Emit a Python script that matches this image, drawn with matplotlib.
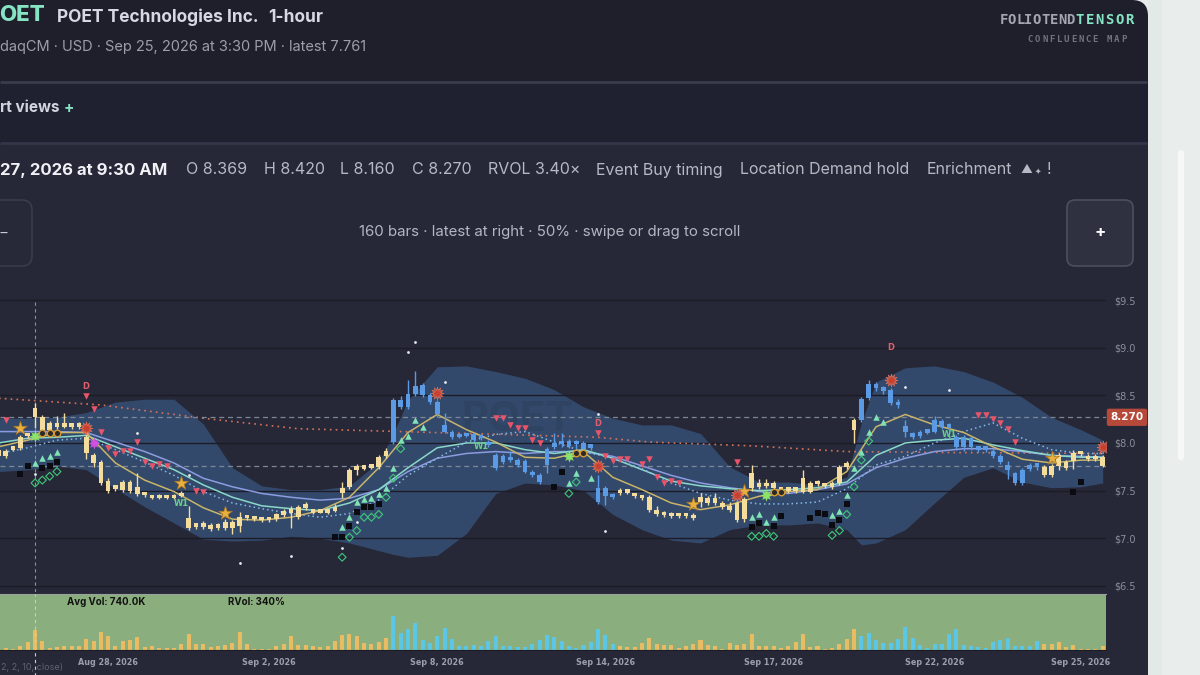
import numpy as np
import matplotlib.pyplot as plt
import matplotlib.transforms as mtransforms
from matplotlib.patches import FancyBboxPatch, Rectangle

# ---- candle data (hourly bars) ----
opens = [
    7.86, 7.92, 7.93, 7.95, 8.07, 8.369, 8.27, 8.14, 8.18, 8.17,
    8.19, 8.17, 8.06, 7.87, 7.80, 7.60, 7.52, 7.51, 7.59, 7.54,
    7.46, 7.43, 7.42, 7.43, 7.42, 7.44, 7.21, 7.12, 7.13, 7.10,
    7.14, 7.11, 7.17, 7.13, 7.21, 7.22, 7.20, 7.19, 7.20, 7.24,
    7.28, 7.22, 7.33, 7.30, 7.27, 7.29, 7.29, 7.48, 7.54, 7.72,
    7.73, 7.74, 7.75, 7.86, 8.01, 8.45, 8.38, 8.51, 8.61, 8.50,
    8.43, 8.19, 8.12, 8.06, 8.07, 8.09, 8.05, 8.01, 7.87, 7.80,
    7.83, 7.82, 7.81, 7.70, 7.66, 7.77, 7.96, 7.99, 8.02, 7.99,
    8.00, 7.95, 7.53, 7.44, 7.46, 7.47, 7.50, 7.46, 7.43, 7.43,
    7.30, 7.25, 7.24, 7.23, 7.24, 7.23, 7.38, 7.42, 7.37, 7.37,
    7.33, 7.37, 7.20, 7.53, 7.58, 7.55, 7.58, 7.51, 7.50, 7.51,
    7.49, 7.58, 7.57, 7.56, 7.54, 7.58, 7.75, 8.14, 8.24, 8.47,
    8.62, 8.56, 8.56, 8.41, 8.18, 8.10, 8.07, 8.11, 8.12, 8.23,
    8.17, 8.06, 7.96, 8.05, 7.94, 7.93, 7.92, 7.86, 7.77, 7.68,
    7.58, 7.73, 7.76, 7.75, 7.66, 7.76, 7.80, 7.81, 7.88, 7.86,
    7.83, 7.85]
closes = [
    7.93, 7.86, 7.95, 8.06, 8.09, 8.27, 8.14, 8.21, 8.17, 8.19,
    8.17, 8.18, 7.90, 7.79, 7.58, 7.50, 7.54, 7.59, 7.50, 7.46,
    7.45, 7.42, 7.43, 7.42, 7.44, 7.46, 7.11, 7.13, 7.12, 7.14,
    7.11, 7.17, 7.11, 7.22, 7.22, 7.20, 7.19, 7.20, 7.25, 7.29,
    7.27, 7.33, 7.32, 7.27, 7.29, 7.27, 7.32, 7.53, 7.72, 7.73,
    7.74, 7.76, 7.85, 7.92, 8.45, 8.38, 8.51, 8.60, 8.50, 8.43,
    8.30, 8.12, 8.06, 8.07, 8.08, 8.03, 8.06, 7.98, 7.74, 7.86,
    7.82, 7.77, 7.70, 7.66, 7.59, 7.94, 7.99, 8.00, 7.97, 8.00,
    7.94, 7.96, 7.38, 7.53, 7.43, 7.51, 7.48, 7.44, 7.42, 7.30,
    7.25, 7.24, 7.23, 7.24, 7.23, 7.21, 7.43, 7.37, 7.42, 7.33,
    7.30, 7.19, 7.41, 7.68, 7.54, 7.58, 7.53, 7.50, 7.51, 7.50,
    7.63, 7.49, 7.58, 7.55, 7.58, 7.75, 7.79, 8.24, 8.46, 8.62,
    8.58, 8.55, 8.42, 8.40, 8.12, 8.06, 8.12, 8.12, 8.24, 8.17,
    8.16, 7.96, 8.06, 7.96, 7.93, 7.94, 7.86, 7.80, 7.72, 7.58,
    7.72, 7.77, 7.75, 7.66, 7.76, 7.87, 7.74, 7.90, 7.89, 7.83,
    7.86, 7.761]
highs = [
    7.95, 7.94, 7.97, 8.08, 8.11, 8.42, 8.29, 8.23, 8.28, 8.31,
    8.20, 8.22, 8.10, 7.90, 7.82, 7.63, 7.56, 7.61, 7.61, 7.68,
    7.48, 7.44, 7.46, 7.44, 7.46, 7.50, 7.34, 7.16, 7.18, 7.16,
    7.16, 7.20, 7.19, 7.28, 7.24, 7.23, 7.21, 7.22, 7.27, 7.31,
    7.34, 7.35, 7.38, 7.31, 7.30, 7.31, 7.36, 7.59, 7.74, 7.78,
    7.76, 7.78, 7.87, 7.95, 8.47, 8.49, 8.66, 8.76, 8.63, 8.52,
    8.45, 8.31, 8.14, 8.10, 8.10, 8.11, 8.09, 8.03, 7.90, 7.88,
    7.92, 7.84, 7.83, 7.72, 7.68, 7.96, 8.10, 8.10, 8.04, 8.03,
    8.02, 7.98, 7.66, 7.55, 7.48, 7.53, 7.52, 7.47, 7.45, 7.45,
    7.34, 7.29, 7.28, 7.25, 7.25, 7.27, 7.47, 7.44, 7.47, 7.39,
    7.38, 7.39, 7.43, 7.77, 7.62, 7.62, 7.60, 7.53, 7.53, 7.52,
    7.72, 7.60, 7.61, 7.58, 7.60, 7.77, 7.81, 8.26, 8.48, 8.66,
    8.64, 8.60, 8.58, 8.46, 8.24, 8.12, 8.14, 8.15, 8.28, 8.25,
    8.21, 8.08, 8.08, 8.07, 7.96, 7.96, 7.94, 7.88, 7.81, 7.70,
    7.74, 7.79, 7.79, 7.77, 7.78, 7.89, 7.82, 7.93, 7.91, 7.88,
    7.88, 7.87]
lows = [
    7.84, 7.84, 7.92, 7.93, 8.05, 8.16, 8.12, 8.12, 8.15, 8.16,
    8.15, 8.15, 7.83, 7.75, 7.56, 7.48, 7.50, 7.49, 7.48, 7.44,
    7.43, 7.41, 7.41, 7.41, 7.41, 7.43, 7.09, 7.10, 7.10, 7.08,
    7.09, 7.09, 7.04, 7.06, 7.19, 7.18, 7.17, 7.17, 7.18, 7.22,
    7.11, 7.20, 7.30, 7.25, 7.26, 7.25, 7.28, 7.42, 7.52, 7.66,
    7.72, 7.73, 7.73, 7.84, 7.99, 8.36, 8.36, 8.49, 8.48, 8.41,
    8.27, 8.10, 8.04, 8.05, 8.06, 8.01, 8.03, 7.96, 7.72, 7.78,
    7.80, 7.75, 7.68, 7.64, 7.57, 7.68, 7.94, 7.96, 7.95, 7.95,
    7.92, 7.93, 7.36, 7.35, 7.41, 7.45, 7.46, 7.42, 7.40, 7.28,
    7.23, 7.22, 7.21, 7.21, 7.21, 7.19, 7.33, 7.35, 7.35, 7.31,
    7.28, 7.17, 7.17, 7.50, 7.52, 7.53, 7.51, 7.48, 7.48, 7.48,
    7.47, 7.47, 7.55, 7.53, 7.52, 7.56, 7.73, 8.00, 8.22, 8.45,
    8.55, 8.51, 8.40, 8.37, 8.06, 8.04, 8.05, 8.09, 8.10, 8.15,
    8.14, 7.93, 7.92, 7.93, 7.91, 7.91, 7.84, 7.78, 7.62, 7.56,
    7.56, 7.71, 7.72, 7.64, 7.64, 7.72, 7.72, 7.73, 7.86, 7.81,
    7.81, 7.75]
volumes_k = [
    380, 390, 280, 550, 1060, 2520, 1180, 390, 470, 550,
    550, 630, 1460, 1140, 2210, 1810, 630, 1140, 1260, 1650,
    470, 630, 390, 350, 390, 790, 2050, 870, 870, 470,
    630, 670, 950, 2210, 790, 280, 240, 280, 630, 790,
    1730, 670, 710, 590, 470, 590, 1180, 1930, 2010, 1730,
    910, 830, 1020, 1580, 4140, 2130, 2560, 3310, 1260, 990,
    1770, 2720, 1460, 550, 630, 670, 550, 1140, 1770, 630,
    630, 470, 470, 790, 1260, 1890, 1650, 1180, 630, 350,
    710, 1060, 2600, 1850, 870, 550, 470, 470, 950, 1540,
    870, 670, 710, 390, 630, 790, 1260, 670, 550, 280,
    950, 750, 790, 2050, 550, 550, 630, 390, 630, 1060,
    2010, 470, 630, 240, 390, 790, 1420, 2640, 1770, 2170,
    1340, 950, 950, 1420, 2800, 1580, 670, 390, 870, 870,
    1970, 2600, 710, 550, 430, 390, 1100, 1260, 1540, 630,
    630, 630, 1220, 790, 790, 1020, 470, 750, 280, 280,
    200, 630]
blue_spans = [(54, 84), (118, 142)]

# envelope band
band_idx = [0, 4, 8, 12, 16, 20, 24, 28, 32, 36, 40, 44, 48, 52, 54, 56, 60, 64, 68, 72,
            76, 80, 84, 88, 92, 96, 100, 104, 108, 112, 116, 118, 120, 124, 128, 132, 136,
            140, 144, 148, 151]
band_up = [8.26, 8.26, 8.27, 8.32, 8.43, 8.46, 8.46, 8.20, 7.74, 7.55, 7.51, 7.51, 7.55,
           7.80, 8.10, 8.45, 8.80, 8.81, 8.75, 8.68, 8.56, 8.38, 8.26, 8.19, 8.19, 8.10,
           7.75, 7.59, 7.59, 7.56, 7.64, 8.21, 8.64, 8.79, 8.81, 8.75, 8.64, 8.48, 8.27,
           8.14, 8.03]
band_lo = [7.70, 7.72, 7.76, 7.72, 7.52, 7.33, 7.16, 6.99, 6.97, 6.98, 7.02, 7.00, 6.95,
           6.87, 6.83, 6.80, 6.82, 7.05, 7.47, 7.58, 7.56, 7.50, 7.25, 7.09, 6.98, 6.95,
           7.09, 7.14, 7.14, 7.16, 7.09, 6.93, 6.95, 7.09, 7.37, 7.64, 7.74, 7.59, 7.53,
           7.54, 7.58]

# moving averages
ma_idx = [0, 4, 8, 12, 16, 20, 24, 28, 32, 36, 40, 44, 48, 52, 56, 60, 64, 68, 72, 76,
          80, 84, 88, 92, 96, 100, 104, 108, 112, 116, 120, 124, 128, 132, 136, 140, 144,
          148, 151]
ma_gold = [7.96, 8.03, 8.11, 8.11, 7.79, 7.61, 7.49, 7.32, 7.20, 7.19, 7.22, 7.29, 7.43,
           7.74, 8.11, 8.30, 8.14, 8.01, 7.85, 7.84, 7.91, 7.64, 7.51, 7.37, 7.30, 7.35,
           7.44, 7.49, 7.51, 7.70, 8.17, 8.30, 8.19, 8.11, 7.96, 7.83, 7.79, 7.82, 7.82]
ma_teal = [8.00, 8.05, 8.06, 8.08, 7.96, 7.84, 7.72, 7.56, 7.43, 7.34, 7.31, 7.29, 7.37,
           7.51, 7.74, 7.95, 8.00, 8.00, 7.93, 7.89, 7.93, 7.84, 7.72, 7.60, 7.55, 7.52,
           7.50, 7.51, 7.53, 7.59, 7.87, 8.00, 8.03, 8.05, 7.98, 7.92, 7.87, 7.85, 7.85]
ma_lav = [8.12, 8.12, 8.12, 8.11, 8.01, 7.91, 7.79, 7.63, 7.54, 7.47, 7.43, 7.40, 7.42,
          7.51, 7.70, 7.84, 7.89, 7.91, 7.89, 7.91, 7.91, 7.86, 7.76, 7.66, 7.58, 7.53,
          7.49, 7.47, 7.51, 7.57, 7.74, 7.84, 7.91, 7.94, 7.94, 7.91, 7.87, 7.86, 7.85]
ma_dot = [7.89, 7.95, 8.03, 8.05, 7.93, 7.80, 7.66, 7.49, 7.37, 7.31, 7.26, 7.22, 7.26,
          7.40, 7.66, 7.84, 8.01, 8.09, 8.12, 8.01, 7.91, 7.84, 7.73, 7.58, 7.47, 7.40,
          7.36, 7.36, 7.38, 7.52, 7.77, 7.86, 8.00, 8.12, 8.21, 8.05, 7.93, 7.89, 7.89]
long_idx = [0, 14, 28, 41, 55, 69, 82, 89, 103, 116, 130, 151]
long_ma = [8.47, 8.40, 8.26, 8.15, 8.12, 8.09, 8.06, 8.01, 7.97, 7.91, 7.90, 7.89]

# signal markers (bar index, price)
buy_i = [5, 6, 7, 8, 47, 48, 49, 50, 51, 52, 53, 54, 55, 56, 57, 58, 78, 79, 81,
         103, 104, 105, 106, 114, 115, 116, 117, 118, 119, 120, 121]
buy_p = [7.79, 7.84, 7.86, 7.91, 7.12, 7.22, 7.38, 7.41, 7.42, 7.46, 7.53, 7.74, 8.03,
         8.07, 8.24, 8.17, 7.58, 7.69, 7.63, 7.22, 7.25, 7.17, 7.22, 7.24, 7.29, 7.45,
         7.74, 7.91, 8.12, 8.27, 8.22]
sell_i = [1, 12, 13, 14, 15, 16, 17, 18, 19, 20, 21, 22, 23, 27, 28,
          68, 69, 70, 71, 72, 73, 74, 82, 83, 84, 85, 86, 88, 89, 90, 91, 92, 93, 101,
          134, 135, 136, 137, 138, 139]
sell_p = [8.24, 8.49, 8.36, 8.12, 7.95, 7.88, 7.92, 7.92, 8.01, 7.80, 7.76, 7.78, 7.76,
          7.50, 7.49, 8.26, 8.26, 8.19, 8.16, 8.16, 8.03, 8.00, 8.10, 7.86, 7.81, 7.83,
          7.83, 7.78, 7.83, 7.64, 7.58, 7.60, 7.58, 7.80, 8.29, 8.29, 8.25, 8.21, 8.15, 8.01]
sq_i = [3, 4, 6, 7, 8, 46, 47, 48, 49, 50, 51, 52, 76, 77,
        103, 104, 106, 107, 111, 112, 113, 114, 115, 116, 147, 148]
sq_p = [7.67, 7.76, 7.74, 7.76, 7.80, 7.01, 7.01, 7.13, 7.28, 7.33, 7.33, 7.36, 7.54,
        7.70, 7.12, 7.16, 7.13, 7.23, 7.21, 7.27, 7.25, 7.14, 7.19, 7.36, 7.49, 7.59]
dia_i = [5, 6, 7, 8, 47, 48, 49, 50, 51, 52, 53, 54, 55, 78, 79,
         103, 104, 105, 106, 114, 115, 116, 117, 118, 119]
dia_p = [7.58, 7.61, 7.65, 7.70, 6.80, 7.01, 7.08, 7.22, 7.22, 7.25, 7.43, 7.63, 7.94,
         7.47, 7.59, 7.02, 7.02, 7.05, 7.02, 7.03, 7.08, 7.25, 7.54, 7.82, 8.02]
pt_i = [5, 19, 26, 33, 40, 47, 49, 56, 57, 61, 82, 83, 124, 130]
pt_p = [7.67, 8.10, 7.66, 6.74, 6.81, 6.90, 7.17, 8.96, 9.06, 8.64, 8.30, 7.08, 8.59, 8.56]
star_i = [3, 25, 31, 95, 102, 144]
star_p = [8.16, 7.58, 7.26, 7.36, 7.50, 7.84]
burst_i = [12, 60, 82, 101, 122, 151]
burst_p = [8.16, 8.53, 7.76, 7.45, 8.66, 7.96]
gburst_i = [5, 78, 105]
gburst_p = [8.07, 7.86, 7.45]
mburst_i = [13]
mburst_p = [8.00]
ring_i = [6, 7, 8, 79, 80, 106, 107]
ring_p = [8.11, 8.11, 8.11, 7.89, 7.89, 7.49, 7.49]
d_i = [12, 82, 122]
d_p = [8.59, 8.21, 9.00]
w_i = [25, 66, 130]
w_p = [7.36, 7.96, 8.09]

date_idx = [15, 37, 60, 83, 106, 128, 148]
date_lbl = ['Aug 28, 2026', 'Sep 2, 2026', 'Sep 8, 2026', 'Sep 14, 2026',
            'Sep 17, 2026', 'Sep 22, 2026', 'Sep 25, 2026']
price_ticks = [6.5, 7.0, 7.5, 8.0, 8.5, 9.0, 9.5]
cross_bar = 5
cross_price = 8.270
latest = 7.761

info_items = [(186, 'O 8.369'), (264, 'H 8.420'), (340, 'L 8.160'), (412, 'C 8.270'),
              (488, 'RVOL 3.40×'), (596, 'Event Buy timing'), (740, 'Location Demand hold'),
              (927, 'Enrichment')]

W, H = 1200, 675
UI = ['Inter', 'DejaVu Sans']
fig = plt.figure(figsize=(12, 6.75), dpi=100, facecolor='#e6ecea')


def px_axes(x, y, w, h):
    return fig.add_axes([x / W, 1 - (y + h) / H, w / W, h / H])


bg = px_axes(0, 0, W, H)
bg.set_xlim(0, W)
bg.set_ylim(H, 0)
bg.axis('off')

# page panels
bg.add_patch(Rectangle((1148, 0), 52, 675, fc='#e9eeed', ec='none'))
bg.add_patch(Rectangle((1148, 0), 14, 675, fc='#e2e9e7', ec='none'))
bg.add_patch(FancyBboxPatch((-30, 0), 1178, 720, boxstyle='round,pad=0,rounding_size=16',
                            fc='#1e1f2b', ec='none'))
bg.add_patch(Rectangle((0, 82), 1148, 60, fc='#1f2130', ec='none'))
bg.add_patch(Rectangle((0, 143), 1148, 532, fc='#262837', ec='none'))
bg.plot([0, 1147], [81.5, 81.5], color='#393c4b', lw=2, solid_capstyle='butt')
bg.plot([0, 1147], [142.5, 142.5], color='#34374a', lw=2, solid_capstyle='butt')
bg.add_patch(FancyBboxPatch((1178, 150), 6, 310, boxstyle='round,pad=0,rounding_size=3',
                            fc='#f6f8f8', ec='none'))

# header text
bg.text(-1, 15, 'OET', ha='left', va='center', fontsize=16, fontweight='heavy',
        color='#86e3c3', family=UI)
bg.text(57, 17, 'POET Technologies Inc.', ha='left', va='center', fontsize=12.5,
        fontweight='bold', color='#d6d8e2', family=UI)
bg.text(268, 17, '1-hour', ha='left', va='center', fontsize=12.5, fontweight='bold',
        color='#d6d8e2', family=UI)
bg.text(0, 47, 'daqCM · USD · Sep 25, 2026 at 3:30 PM · latest 7.761', ha='left',
        va='center', fontsize=10.5, color='#9c9ea9', family=UI)


def spaced(x, y, s, step, **kw):
    for k, ch in enumerate(s):
        bg.text(x + k * step, y, ch, ha='center', va='center', **kw)


spaced(1003.5, 20, 'FOLIOTEND', 8.35, fontsize=10, fontweight='bold',
       color='#a3a6b0', family='DejaVu Sans Mono')
spaced(1080, 20, 'TENSOR', 9.9, fontsize=10, fontweight='bold',
       color='#86e3c3', family='DejaVu Sans Mono')
spaced(1030.5, 40, 'CONFLUENCE MAP', 7.2, fontsize=6.5, fontweight='bold',
       color='#6f7380', family='DejaVu Sans Mono')

bg.text(0, 108, 'rt views', ha='left', va='center', fontsize=11, fontweight='bold',
        color='#d2d4de', family=UI)
bg.text(64, 108, '+', ha='left', va='center', fontsize=11, fontweight='bold',
        color='#86e3c3', family=UI)

bg.text(0, 170, '27, 2026 at 9:30 AM', ha='left', va='center', fontsize=12,
        fontweight='bold', color='#f0f1f5', family=UI)
for x, s in info_items:
    bg.text(x, 170, s, ha='left', va='center', fontsize=11.5, color='#b6b8c4', family=UI)
bg.text(1020, 170, '▲', ha='left', va='center', fontsize=8.5, color='#b6b8c4', family=UI)
bg.text(1035, 171, '✦', ha='left', va='center', fontsize=5.5, color='#b6b8c4', family=UI)
bg.text(1047, 170, '!', ha='left', va='center', fontsize=11.5, color='#b6b8c4', family=UI)

# scroll row
bg.add_patch(FancyBboxPatch((-40, 200), 72, 66, boxstyle='round,pad=0,rounding_size=10',
                            fc='#272938', ec='#393c4b', lw=1.2))
bg.text(-2, 232, '−', ha='left', va='center', fontsize=11, color='#c8cad4', family=UI)
bg.add_patch(FancyBboxPatch((1067, 200), 66, 66, boxstyle='round,pad=0,rounding_size=8',
                            fc='#2f3141', ec='#4b4e5e', lw=1.2))
bg.text(1100, 233, '+', ha='center', va='center', fontsize=12, fontweight='bold',
        color='#ffffff', family=UI)
bg.text(550, 232, '160 bars · latest at right · 50% · swipe or drag to scroll',
        ha='center', va='center', fontsize=10.8, color='#b4b6c2', family=UI)
bg.text(1, 668, '2, 2, 10, close)', ha='left', va='center', fontsize=6.5,
        color='#5f6270', family=UI)

# ---- price panel ----
n = len(closes)
idx = np.arange(n)
is_blue = np.zeros(n, dtype=bool)
for a, b in blue_spans:
    is_blue[a:b + 1] = True
candle_col = np.where(is_blue, '#5b9be6', '#f4dd9c')
vol_col = np.where(is_blue, '#5cc6e6', '#e9bb62')

ax = px_axes(0, 290, 1106, 302)
ax.set_facecolor('none')
ax.set_xlim(0.21, 151.45)
ax.set_ylim(6.435, 9.607)
for sp in ax.spines.values():
    sp.set_visible(False)
ax.set_xticks([])
ax.yaxis.tick_right()
ax.set_yticks(price_ticks)
ax.set_yticklabels([f'${t:.1f}' for t in price_ticks])
ax.tick_params(axis='y', length=0, pad=6, labelsize=7, labelcolor='#8b8e9a')

ax.fill_between(band_idx, band_lo, band_up, color='#33496b', lw=0, zorder=1)
ax.hlines(price_ticks, 0.21, 151.45, color='#1b1c27', lw=1, zorder=1.5)
ax.text(71, 8.24, 'POET', fontsize=30, fontweight='bold', color='#2a3a55', alpha=0.4,
        ha='center', va='center', family=UI, zorder=1.6)

ax.plot(long_idx, long_ma, color='#d8735a', lw=1.2, ls=(0, (1, 2.5)), zorder=2)
ax.axhline(cross_price, color='#7c8696', lw=0.9, ls=(0, (4, 3)), zorder=2)
ax.axhline(latest, color='#7c8696', lw=0.9, ls=(0, (4, 3)), zorder=2)
ax.axvline(cross_bar, ymax=0.967, color='#8c8f9c', lw=0.8, ls=(0, (3, 3)), zorder=2)

ax.plot(ma_idx, ma_lav, color='#8c9ce0', lw=1.1, zorder=3)
ax.plot(ma_idx, ma_teal, color='#8ad8c8', lw=1.1, zorder=3)
ax.plot(ma_idx, ma_dot, color='#86b8e6', lw=1.1, ls=(0, (1, 2)), zorder=3)
ax.plot(ma_idx, ma_gold, color='#c8b46a', lw=1.1, zorder=3)

o = np.array(opens)
c = np.array(closes)
body_lo = np.minimum(o, c)
body_h = np.maximum(np.abs(c - o), 0.035)
ax.vlines(idx, lows, highs, colors=candle_col, lw=1, zorder=4)
ax.bar(idx, body_h, bottom=body_lo, width=0.64, color=candle_col, lw=0, zorder=4)

ax.scatter(buy_i, buy_p, marker='^', s=22, color='#7fe3b5', lw=0, zorder=5)
ax.scatter(sell_i, sell_p, marker='v', s=22, color='#e8556a', lw=0, zorder=5)
ax.scatter(sq_i, sq_p, marker='s', s=18, color='#0b0c12', lw=0, zorder=5)
ax.scatter(dia_i, dia_p, marker='D', s=16, facecolor='none', edgecolor='#3fc87a',
           lw=0.8, zorder=5)
ax.scatter(pt_i, pt_p, marker='o', s=4, color='#e8e8f0', lw=0, zorder=5)
ax.scatter(star_i, star_p, marker='*', s=110, color='#e8b040', edgecolor='#a87420',
           lw=0.5, zorder=6)
ax.scatter(burst_i, burst_p, marker=(12, 1, 0), s=85, color='#c8402f',
           edgecolor='#e0705a', lw=0.5, zorder=6)
ax.scatter(gburst_i, gburst_p, marker=(8, 1, 0), s=80, color='#8ee26a', lw=0, zorder=6)
ax.scatter(mburst_i, mburst_p, marker=(8, 1, 0), s=80, color='#d050e0', lw=0, zorder=6)
ax.scatter(ring_i, ring_p, marker='o', s=22, facecolor='#2a2a2a', edgecolor='#d89a30',
           lw=1, zorder=6)
for i, p in zip(d_i, d_p):
    ax.text(i, p, 'D', fontsize=6, fontweight='bold', color='#e0606e', ha='center',
            va='center', zorder=6)
for i, p in zip(w_i, w_p):
    ax.text(i, p, 'W1', fontsize=6, fontweight='bold', color='#6ad08a', ha='center',
            va='center', zorder=6)

tr = mtransforms.blended_transform_factory(ax.transAxes, ax.transData)
ax.text(1.019, cross_price, f'{cross_price:.3f}', transform=tr, ha='center', va='center',
        fontsize=7.5, fontweight='bold', color='white', zorder=7,
        bbox=dict(boxstyle='round,pad=0.35,rounding_size=0.2', fc='#b5493a', ec='none'))

# ---- volume panel ----
vax = px_axes(0, 594, 1106, 57)
vax.set_facecolor('#8aae7e')
vax.set_xlim(0.21, 151.45)
vax.set_ylim(0, 6730)
for sp in vax.spines.values():
    sp.set_visible(False)
vax.spines['top'].set_visible(True)
vax.spines['top'].set_color('#9aa1a0')
vax.bar(idx, volumes_k, width=0.55, color=vol_col, lw=0, zorder=2)
vax.axhline(0, color='#1a1b24', lw=1.5, zorder=3)
vax.axvline(cross_bar, ymin=-0.45, ymax=1, color='#c9ccd4', lw=0.8, ls=(0, (3, 3)),
            clip_on=False, zorder=3)
vax.set_yticks([])
vax.set_xticks(date_idx)
vax.set_xticklabels(date_lbl, fontweight='bold')
vax.tick_params(axis='x', length=0, pad=5, labelsize=5.8, labelcolor='#9c9fab')
vax.text(67 / 1106, 0.86, 'Avg Vol: 740.0K', transform=vax.transAxes, ha='left',
         va='center', fontsize=7, fontweight='bold', color='#111111', family=UI)
vax.text(228 / 1106, 0.86, 'RVol: 340%', transform=vax.transAxes, ha='left',
         va='center', fontsize=7, fontweight='bold', color='#111111', family=UI)

fig.savefig('out.png', dpi=100, facecolor=fig.get_facecolor())
